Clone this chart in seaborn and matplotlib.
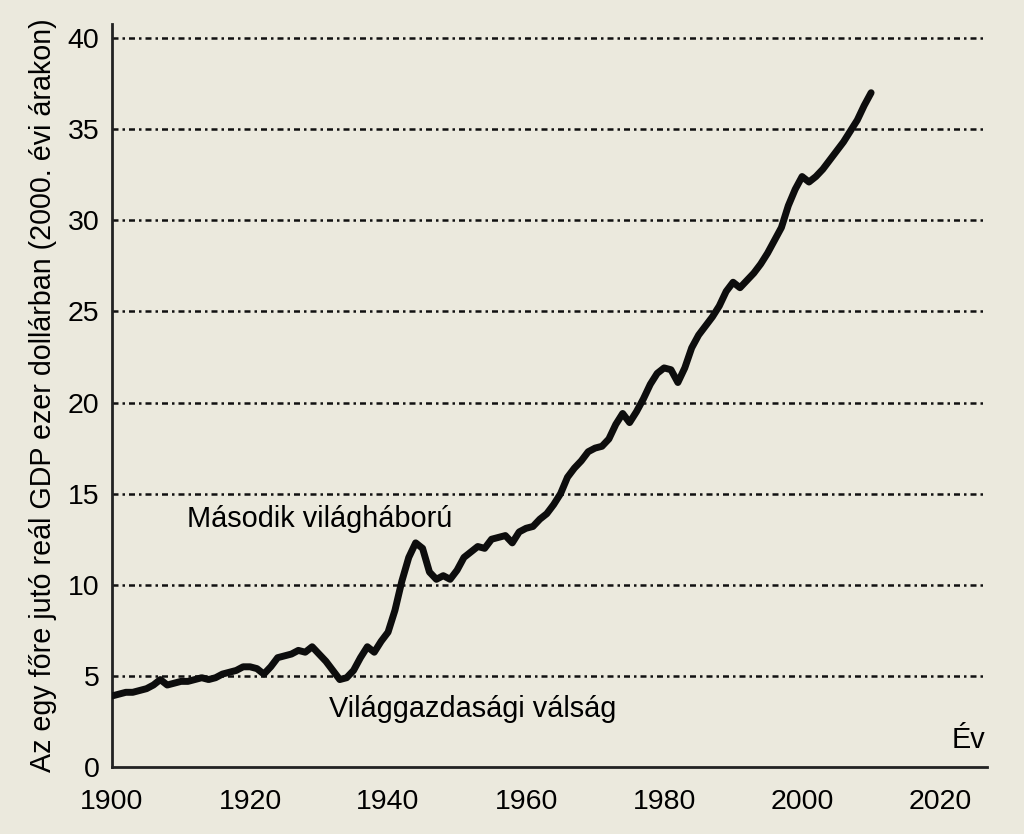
import numpy as np
import pandas as pd
import matplotlib
matplotlib.use('Agg')
import matplotlib.pyplot as plt
import seaborn as sns

years = list(range(1900, 2011))
gdp = [
    3.9, 4.0, 4.1, 4.1, 4.2, 4.3, 4.5, 4.8, 4.5, 4.6,   # 1900-1909
    4.7, 4.7, 4.8, 4.9, 4.8, 4.9, 5.1, 5.2, 5.3, 5.5,   # 1910-1919
    5.5, 5.4, 5.1, 5.5, 6.0, 6.1, 6.2, 6.4, 6.3, 6.6,   # 1920-1929
    6.2, 5.8, 5.3, 4.8, 4.9, 5.3, 6.0, 6.6, 6.3, 6.9,   # 1930-1939
    7.4, 8.6, 10.2, 11.5, 12.3, 12.0, 10.7, 10.3, 10.5, 10.3,  # 1940-1949
    10.8, 11.5, 11.8, 12.1, 12.0, 12.5, 12.6, 12.7, 12.3, 12.9,  # 1950-1959
    13.1, 13.2, 13.6, 13.9, 14.4, 15.0, 15.9, 16.4, 16.8, 17.3,  # 1960-1969
    17.5, 17.6, 18.0, 18.8, 19.4, 18.9, 19.5, 20.2, 21.0, 21.6,  # 1970-1979
    21.9, 21.8, 21.1, 21.9, 23.0, 23.7, 24.2, 24.7, 25.3, 26.1,  # 1980-1989
    26.6, 26.3, 26.7, 27.1, 27.6, 28.2, 28.9, 29.6, 30.8, 31.7,  # 1990-1999
    32.4, 32.1, 32.4, 32.8, 33.3, 33.8, 34.3, 34.9, 35.5, 36.3,  # 2000-2009
    37.0,
]
x_ticks = [1900, 1920, 1940, 1960, 1980, 2000, 2020]
y_ticks = [0, 5, 10, 15, 20, 25, 30, 35, 40]

df = pd.DataFrame({'Ev': years, 'GDP': gdp})

bg = '#ebe9dd'
sns.set_style('white')
plt.rcParams['font.family'] = ['Liberation Sans', 'DejaVu Sans']
plt.rcParams['text.color'] = 'black'
plt.rcParams['axes.labelcolor'] = 'black'
plt.rcParams['xtick.labelcolor'] = 'black'
plt.rcParams['ytick.labelcolor'] = 'black'

fig = plt.figure(figsize=(10.24, 8.34), dpi=100, facecolor=bg)
ax = fig.add_axes([0.1094, 0.0803, 0.8545, 0.8909])
ax.set_facecolor(bg)

# dash-dot gridlines
for v in y_ticks[1:]:
    ax.axhline(v, color='#111111', lw=1.8, dashes=(2.4, 1.6, 1.0, 1.6), zorder=1)

sns.lineplot(data=df, x='Ev', y='GDP', ax=ax, color='#0d0d0d', lw=5,
             solid_joinstyle='round', solid_capstyle='round', zorder=3)

ax.set_xlim(1900, 2026.8)
ax.set_ylim(0, 40.77)
ax.set_xticks(x_ticks)
ax.set_yticks(y_ticks)
ax.tick_params(axis='x', direction='in', length=9, width=1.8, color='#222222',
               pad=16, labelsize=20.5)
ax.tick_params(axis='y', length=0, pad=9, labelsize=20.5)

for side in ['top', 'right']:
    ax.spines[side].set_visible(False)
for side in ['left', 'bottom']:
    ax.spines[side].set_linewidth(2.0)
    ax.spines[side].set_color('#222222')

ax.set_xlabel('')
ax.set_ylabel('Az egy főre jutó reál GDP ezer dollárban (2000. évi árakon)',
              fontsize=20.6, labelpad=8)

ax.text(1910.8, 13.6, 'Második világháború', fontsize=20.8, ha='left', va='center')
ax.text(1931.5, 3.2, 'Világgazdasági válság', fontsize=20.8, ha='left', va='center')
ax.text(2021.6, 1.5, 'Év', fontsize=20.8, ha='left', va='center')

fig.savefig('out.png', dpi=100, facecolor=bg)
